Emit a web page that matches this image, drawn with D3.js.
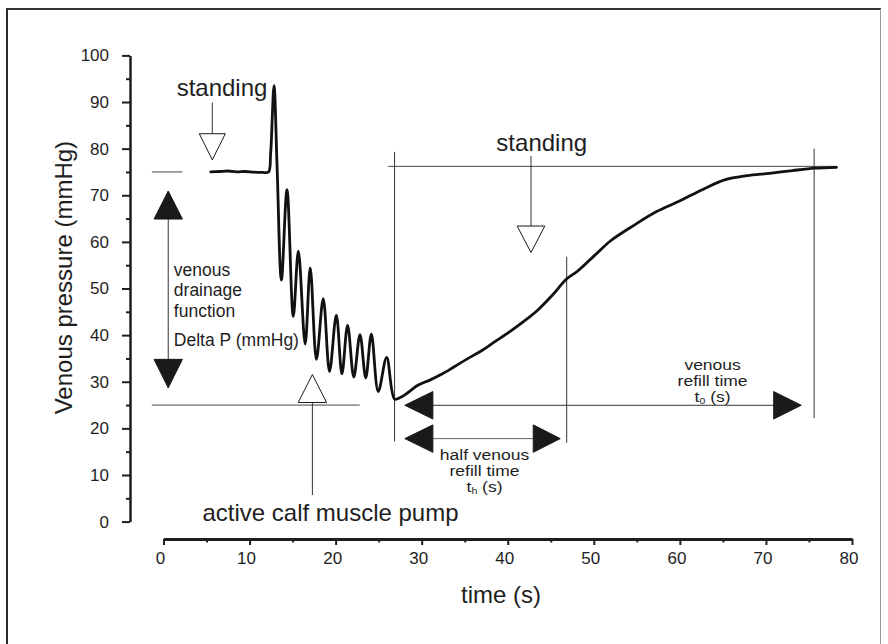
<!DOCTYPE html>
<html>
<head>
<meta charset="utf-8">
<script src="https://cdn.jsdelivr.net/npm/d3@7"></script>
<style>
  html, body { margin: 0; padding: 0; background: #fff; }
  svg { display: block; font-family: "Liberation Sans", Arial, Helvetica, sans-serif; }
</style>
</head>
<body>
<svg id="chart" width="888" height="644"></svg>
<script>
// ---------------- data ----------------
const timeS = [5.5, 6.5, 7.5, 8.5, 9.5, 10.5, 11.5, 12.2,
  12.45, 12.84, 13.2, 13.7, 14.35, 15.08, 15.67, 16.46, 17.05, 17.77, 18.56,
  19.29, 20.08, 20.73, 21.39, 22.11, 22.83, 23.5, 24.15, 24.95, 25.93, 26.85,
  27.5, 28.5, 29.5, 31.0, 32.3, 33.6, 35.2, 36.9, 38.5, 40.2, 41.9, 43.5,
  45.2, 46.8, 48.1, 50.1, 52.0, 54.7, 57.3, 59.9, 62.6, 65.2, 67.8, 70.4,
  73.1, 75.7, 78.2];
const pressureMmHg = [75.0, 75.1, 75.2, 75.0, 75.1, 74.95, 74.9, 75.0,
  79.0, 93.5, 76.0, 51.8, 71.2, 44.0, 58.0, 38.1, 54.4, 34.8, 47.8,
  32.2, 44.3, 31.7, 42.1, 31.0, 40.1, 30.8, 40.2, 27.9, 35.2, 26.3,
  26.6, 27.8, 29.2, 30.4, 31.6, 33.0, 34.8, 36.6, 38.6, 40.7, 43.0, 45.4,
  48.6, 52.0, 53.7, 57.1, 60.3, 63.6, 66.5, 68.7, 71.2, 73.3, 74.2, 74.7,
  75.3, 75.8, 76.0];

const yMajorTicks = [0, 10, 20, 30, 40, 50, 60, 70, 80, 90, 100];
const yMinorTicks = [5, 15, 25, 35, 45, 55, 65, 75, 85, 95];
const xMajorTicks = [0, 10, 20, 30, 40, 50, 60, 70, 80];
const xMinorTicks = [5, 15, 25, 35, 45, 55, 65, 75];

const yAxisTitle = "Venous pressure (mmHg)";
const xAxisTitle = "time (s)";

// ---------------- setup ----------------
const svg = d3.select("#chart");
const W = 888, H = 644;
const x = d3.scaleLinear().domain([0, 80]).range([163.5, 852]);
const y = d3.scaleLinear().domain([0, 100]).range([521.6, 55.4]);
const ink = "#1e1e1e";

// frame
svg.append("line").attr("x1", 7).attr("x2", 7).attr("y1", 9).attr("y2", H)
  .attr("stroke", "#2a2a2a").attr("stroke-width", 2);
svg.append("line").attr("x1", 6).attr("x2", 881).attr("y1", 9).attr("y2", 9)
  .attr("stroke", "#333").attr("stroke-width", 2);
svg.append("line").attr("x1", 880.5).attr("x2", 880.5).attr("y1", 9).attr("y2", H)
  .attr("stroke", "#999").attr("stroke-width", 1);

// ---------------- axes ----------------
const yAxisX = 130;
const gy = svg.append("g").attr("transform", `translate(${yAxisX},0)`)
  .call(d3.axisLeft(y).tickValues(yMajorTicks).tickSize(8).tickSizeOuter(0).tickPadding(13));
gy.select(".domain").attr("stroke", ink).attr("stroke-width", 2.5);
gy.selectAll(".tick line").attr("stroke", ink).attr("stroke-width", 2);
gy.selectAll(".tick text").attr("font-size", 17).attr("fill", ink)
  .attr("font-family", '"Liberation Sans", Arial, sans-serif');
const gym = svg.append("g").attr("transform", `translate(${yAxisX},0)`)
  .call(d3.axisLeft(y).tickValues(yMinorTicks).tickSize(4).tickSizeOuter(0).tickFormat(""));
gym.select(".domain").remove();
gym.selectAll(".tick line").attr("stroke", ink).attr("stroke-width", 2);

const xAxisY = 539;
const gx = svg.append("g").attr("transform", `translate(0,${xAxisY})`)
  .call(d3.axisBottom(x).tickValues(xMajorTicks).tickSize(6).tickSizeOuter(0).tickPadding(7));
gx.select(".domain").attr("stroke", ink).attr("stroke-width", 3);
gx.selectAll(".tick line").attr("stroke", ink).attr("stroke-width", 2);
gx.selectAll(".tick text").attr("font-size", 17).attr("fill", ink).attr("dx", -3.5)
  .attr("font-family", '"Liberation Sans", Arial, sans-serif');
const gxm = svg.append("g").attr("transform", `translate(0,${xAxisY})`)
  .call(d3.axisBottom(x).tickValues(xMinorTicks).tickSize(3.5).tickSizeOuter(0).tickFormat(""));
gxm.select(".domain").remove();
gxm.selectAll(".tick line").attr("stroke", ink).attr("stroke-width", 2);

// axis titles
svg.append("text").attr("transform", `translate(71.5,277.6) rotate(-90)`)
  .attr("text-anchor", "middle").attr("font-size", 24).attr("fill", ink).text(yAxisTitle);
svg.append("text").attr("x", 501).attr("y", 603)
  .attr("text-anchor", "middle").attr("font-size", 24).attr("fill", ink).text(xAxisTitle);

// ---------------- annotation helpers ----------------
const thin = "#333";
function hline(v, t0, t1, color, w) {
  svg.append("line").attr("x1", x(t0)).attr("x2", x(t1)).attr("y1", y(v)).attr("y2", y(v))
    .attr("stroke", color || thin).attr("stroke-width", w || 1);
}
function vline(t, v0, v1, color, w) {
  svg.append("line").attr("x1", x(t)).attr("x2", x(t)).attr("y1", y(v0)).attr("y2", y(v1))
    .attr("stroke", color || thin).attr("stroke-width", w || 1);
}
function vtri(t, vTip, vBase, hw, fill) {
  const cx = x(t);
  const pts = [[cx, y(vTip)], [cx - hw, y(vBase)], [cx + hw, y(vBase)]];
  svg.append("path").attr("d", d3.line()(pts) + "Z")
    .attr("fill", fill).attr("stroke", "#1a1a1a")
    .attr("stroke-width", 1).attr("stroke-linejoin", "miter");
}
function htri(v, tTip, tBase, hh) {
  const cy = y(v);
  const pts = [[x(tTip), cy], [x(tBase), cy - hh], [x(tBase), cy + hh]];
  svg.append("path").attr("d", d3.line()(pts) + "Z").attr("fill", "#1a1a1a")
    .attr("stroke", "#1a1a1a").attr("stroke-width", 1);
}
// each line is its own text element; sx = horizontal stretch
function label(lines, t, v0, lineGapPx, size, anchor, sx) {
  lines.forEach((ln, i) => {
    const px = x(t), py = y(v0) + i * lineGapPx;
    const tx = svg.append("text").attr("font-size", size).attr("fill", ink)
      .attr("text-anchor", anchor || "start")
      .attr("transform", `translate(${px},${py}) scale(${sx || 1},1)`);
    if (typeof ln === "string") tx.text(ln);
    else {
      tx.append("tspan").text(ln[0]);
      tx.append("tspan").attr("font-size", size * 0.6).attr("fill", ink)
        .attr("baseline-shift", "-20%").text(ln[1]);
      tx.append("tspan").attr("fill", ink).text(ln[2]);
    }
  });
}

// reference lines
hline(75, -1.35, 2.2, "#444");
hline(25, -1.36, 22.8, "#444");
hline(76.2, 26.1, 78.2, "#444");
vline(26.85, 79.3, 17.2);
vline(46.85, 56.8, 16.9);
vline(75.6, 80.0, 22.2);

// standing (left)
vline(5.67, 89.9, 83.2);
vtri(5.67, 77.6, 83.2, 13, "#fff");
label(["standing"], 6.8, 91.3, 0, 24, "middle");

// standing (right)
vline(42.7, 78.4, 63.4);
vtri(42.7, 57.7, 63.4, 13.8, "#fff");
label(["standing"], 43.95, 79.5, 0, 24, "middle");

// active calf muscle pump
vline(17.3, 25.55, 5.7);
vtri(17.3, 31.55, 25.55, 14.2, "#fff");
label(["active calf muscle pump"], 19.4, 0.2, 0, 24, "middle");

// Delta P double arrow
vline(0.55, 70.9, 28.7, "#333");
vtri(0.55, 70.9, 64.9, 14.2, "#1a1a1a");
vtri(0.55, 28.7, 34.8, 14.2, "#1a1a1a");
label(["venous", "drainage", "function"], 1.2, 52.6, 20.1, 17.5, "start");
label(["Delta P (mmHg)"], 1.2, 37.7, 0, 17.5, "start");

// venous refill time arrow
hline(24.95, 30, 72, "#333");
htri(24.95, 28.04, 31.3, 13.75);
htri(24.95, 74.1, 70.9, 13.75);
label(["venous", "refill time", ["t", "0", " (s)"]], 63.8, 32.6, 16.3, 15.5, "middle", 1.13);

// half venous refill time arrow
hline(17.8, 30, 44, "#666");
htri(17.8, 28.04, 31.3, 13.75);
htri(17.8, 46.1, 42.96, 13.75);
label(["half venous", "refill time", ["t", "h", " (s)"]], 37.3, 13.3, 16.3, 15.5, "middle", 1.13);

// ---------------- pressure curve ----------------
const pts = timeS.map((t, i) => [t, pressureMmHg[i]]);
const line = d3.line().x(d => x(d[0])).y(d => y(d[1])).curve(d3.curveCatmullRom.alpha(0.5));
svg.append("path").datum(pts).attr("d", line)
  .attr("fill", "none").attr("stroke", "#111").attr("stroke-width", 2.8)
  .attr("stroke-linejoin", "round").attr("stroke-linecap", "round");
</script>
</body>
</html>
